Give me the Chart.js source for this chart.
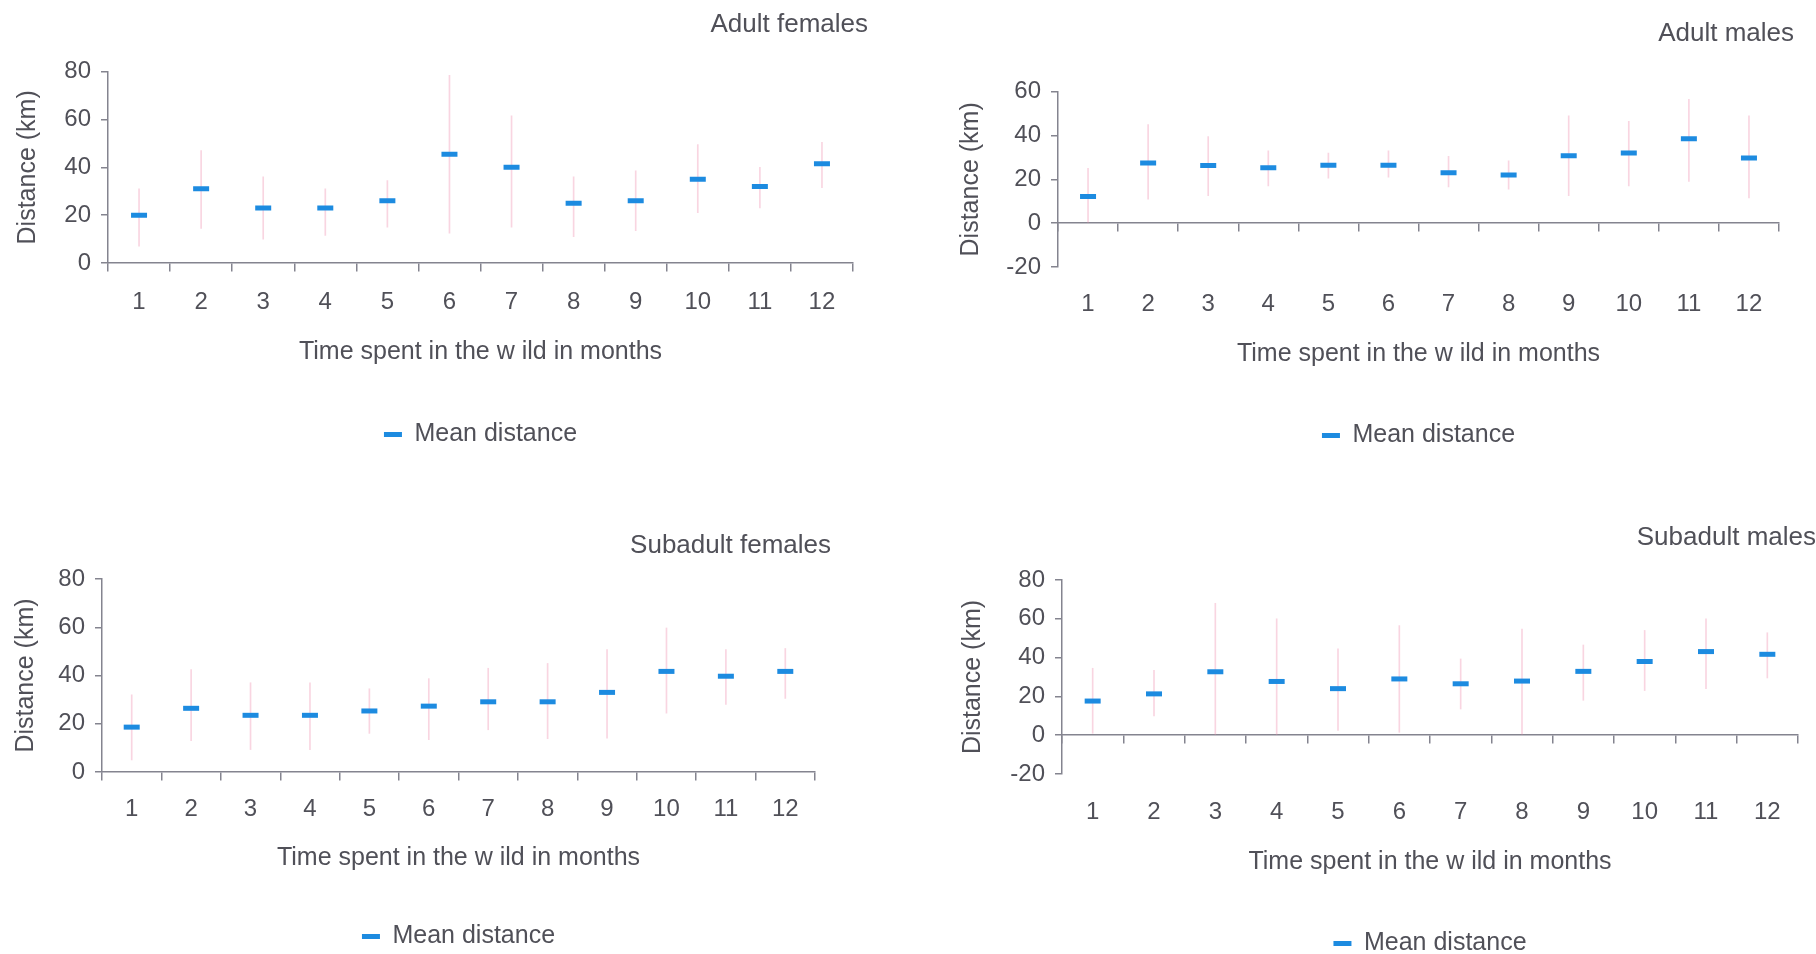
<!DOCTYPE html>
<html>
<head>
<meta charset="utf-8">
<script src="https://cdn.jsdelivr.net/npm/chart.js@4.4.0/dist/chart.umd.min.js"></script>
<style>
html,body{margin:0;padding:0;background:#fff;overflow:hidden;width:1816px;height:954px;}
canvas{position:absolute;}
</style>
</head>
<body>
<canvas id="c1"></canvas>
<canvas id="c2"></canvas>
<canvas id="c3"></canvas>
<canvas id="c4"></canvas>
<script>
// Categories (months in the wild)
const months = ['1','2','3','4','5','6','7','8','9','10','11','12'];

// Adult females
const afMean = [20, 31, 23, 23, 26, 45.5, 40, 25, 26, 35, 32, 41.5];
const afLow  = [7, 14.5, 10, 11.5, 15, 12.5, 15, 11, 13.5, 21, 23, 31.5];
const afHigh = [31, 47, 36, 31, 34.5, 78.5, 61.5, 36, 38.5, 49.5, 40, 50.5];

// Adult males
const amMean = [12.2, 27.5, 26.3, 25.3, 26.4, 26.4, 23, 22, 30.8, 32, 38.5, 29.7];
const amLow  = [0, 11, 12.5, 17, 20.5, 21, 16.5, 15.5, 12.5, 17, 19, 11.5];
const amHigh = [25, 45, 39.5, 33, 32, 33, 30.5, 28.5, 49, 46.5, 56.5, 49];

// Subadult females
const sfMean = [18.6, 26.4, 23.5, 23.5, 25.3, 27.3, 29.1, 29.1, 33, 41.7, 39.7, 41.7];
const sfLow  = [5, 13, 9.3, 9.3, 16, 13.4, 17.5, 13.8, 14, 24.4, 28, 30.5];
const sfHigh = [32, 42.5, 37, 37, 34.5, 38.7, 43, 45, 50.7, 59.7, 50.7, 51.2];

// Subadult males
const smMean = [17.6, 21.3, 32.7, 27.7, 24, 29, 26.5, 27.9, 32.9, 38, 43.1, 41.7];
const smLow  = [1, 10, 0, 0, 2.5, 1.5, 13.5, 0.5, 18, 23, 24, 29.5];
const smHigh = [34.5, 33.5, 68, 60, 44.5, 56.5, 39.3, 54.7, 46.5, 54, 60, 52.8];

// Text labels
const titles = ['Adult females', 'Adult males', 'Subadult females', 'Subadult males'];
const xTitle = 'Time spent in the w ild in months';
const yTitle = 'Distance (km)';
const legendLabel = 'Mean distance';

const TEXT = '#505058', AXIS = '#84848f', MEAN = '#1d8be0', ERR = 'rgba(240,145,175,0.38)';
Chart.defaults.font.family = "'Liberation Sans', Arial, sans-serif";
Chart.defaults.color = TEXT;

function makePanel(id, title, mean, low, high, L) {
  const cv = document.getElementById(id);
  cv.width = L.w; cv.height = L.h;
  cv.style.left = L.left + 'px'; cv.style.top = L.top + 'px';
  cv.style.width = L.w + 'px'; cv.style.height = L.h + 'px';
  new Chart(cv, {
    type: 'bar',
    data: {
      labels: months,
      datasets: [
        { type: 'bar', label: 'range', data: low.map((l, i) => [l, high[i]]),
          backgroundColor: ERR, barThickness: 1, order: 2, xAxisID: 'x', yAxisID: 'y' },
        { type: 'line', label: legendLabel, data: mean, showLine: false,
          pointStyle: 'line', pointRadius: 8, pointHoverRadius: 8, pointBorderWidth: 5,
          borderWidth: 5, borderColor: MEAN, backgroundColor: MEAN, order: 1, xAxisID: 'x', yAxisID: 'y' }
      ]
    },
    options: {
      responsive: false, animation: false, devicePixelRatio: 1,
      layout: { padding: 0 },
      events: [],
      plugins: {
        title: { display: true, text: title, align: 'end', color: TEXT,
          font: { size: 26, weight: 'normal' }, padding: { top: L.tTop, bottom: L.tBot } },
        legend: { position: 'bottom', fullSize: false,
          labels: { usePointStyle: true, pointStyleWidth: 18, color: TEXT, padding: 10,
            font: { size: 25 }, filter: it => it.datasetIndex === 1 } },
        tooltip: { enabled: false }
      },
      scales: {
        x: { axis: 'x', type: 'category', position: { y: 0 }, offset: true,
          grid: { display: true, offset: true, drawOnChartArea: false, drawTicks: true, tickLength: 8, color: AXIS, lineWidth: 1.5 },
          border: { display: true, color: AXIS, width: 1.5 },
          ticks: { display: false } },
        xl: { axis: 'x', type: 'category', labels: months, position: 'bottom', offset: true,
          grid: { display: false, drawTicks: false }, border: { display: false },
          ticks: { color: TEXT, font: { size: 24 }, padding: L.xPad, maxRotation: 0, autoSkip: false },
          title: { display: true, text: xTitle, color: TEXT, font: { size: 25 }, padding: { top: 0, bottom: L.xtPad } },
          afterFit: s => { s.height = L.xlH; } },
        y: { axis: 'y', type: 'linear', position: 'left', min: L.min, max: L.max,
          ticks: { stepSize: 10, color: TEXT, font: { size: 24 }, padding: 10,
            callback: v => (v % 20 === 0 ? String(v) : '') },
          grid: { display: true, drawOnChartArea: false, drawTicks: true, tickLength: 7, color: AXIS, lineWidth: 1.5 },
          border: { display: true, color: AXIS, width: 1.5 },
          title: { display: true, text: yTitle, color: TEXT, font: { size: 25 }, padding: { top: L.yPad, bottom: 0 } },
          afterFit: s => { s.width = L.yW; } },
        yr: { axis: 'y', type: 'linear', position: 'right', display: true,
          grid: { display: false, drawTicks: false }, border: { display: false },
          ticks: { display: false }, afterFit: s => { s.width = L.rW; } }
      }
    }
  });
}

makePanel('c1', titles[0], afMean, afLow, afHigh,
  { left: 0, top: 0, w: 868, h: 457, yW: 108, rW: 15, tTop: 9.3, tBot: 31.2, xlH: 149, xPad: 25.2, xtPad: 45.2, yPad: 13, min: 0, max: 80 });
makePanel('c2', titles[1], amMean, amLow, amHigh,
  { left: 940, top: 0, w: 854, h: 458, yW: 118, rW: 15, tTop: 18.6, tBot: 41.9, xlH: 146, xPad: 23.2, xtPad: 44, yPad: 16.5, min: -20, max: 60 });
makePanel('c3', titles[2], sfMean, sfLow, sfHigh,
  { left: 0, top: 500, w: 831, h: 459, yW: 102, rW: 16, tTop: 30.7, tBot: 17.1, xlH: 142, xPad: 22.8, xtPad: 41, yPad: 10.7, min: 0, max: 80 });
makePanel('c4', titles[3], smMean, smLow, smHigh,
  { left: 940, top: 500, w: 876, h: 466, yW: 122, rW: 18, tTop: 21.9, tBot: 26.9, xlH: 147, xPad: 24.2, xtPad: 44, yPad: 18.5, min: -20, max: 80 });
</script>
</body>
</html>
